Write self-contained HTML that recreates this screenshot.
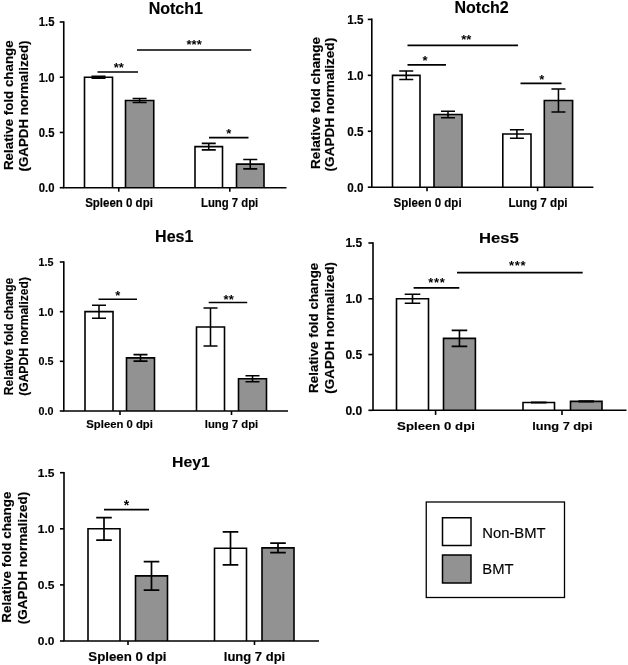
<!DOCTYPE html>
<html><head><meta charset="utf-8"><title>Figure</title>
<style>html,body{margin:0;padding:0;background:#fff;}body{width:628px;height:665px;overflow:hidden;font-family:"Liberation Sans", sans-serif;}</style>
</head><body>
<svg width="628" height="665" viewBox="0 0 628 665" style="display:block;will-change:transform;font-family:'Liberation Sans', sans-serif" fill="#000">
<rect width="628" height="665" fill="#fff"/>
<path d="M84.50 187.70V77.23H112.50V187.70" fill="#ffffff" stroke="#000" stroke-width="1.6" stroke-linejoin="miter"/>
<path d="M98.50 76.23V78.23M91.50 76.23H105.50M91.50 78.23H105.50" stroke="#000" stroke-width="1.55" fill="none"/>
<path d="M125.50 187.70V100.43H153.75V187.70" fill="#929292" stroke="#000" stroke-width="1.6" stroke-linejoin="miter"/>
<path d="M139.62 98.43V102.43M132.62 98.43H146.62M132.62 102.43H146.62" stroke="#000" stroke-width="1.55" fill="none"/>
<path d="M195.00 187.70V146.61H222.50V187.70" fill="#ffffff" stroke="#000" stroke-width="1.6" stroke-linejoin="miter"/>
<path d="M208.75 143.36V149.86M201.75 143.36H215.75M201.75 149.86H215.75" stroke="#000" stroke-width="1.55" fill="none"/>
<path d="M236.50 187.70V164.17H264.00V187.70" fill="#929292" stroke="#000" stroke-width="1.6" stroke-linejoin="miter"/>
<path d="M250.25 159.47V168.87M243.25 159.47H257.25M243.25 168.87H257.25" stroke="#000" stroke-width="1.55" fill="none"/>
<path d="M63.75 21.20V187.70H286.5" stroke="#000" stroke-width="1.6" fill="none" stroke-linejoin="miter"/>
<path d="M59.75 187.70H63.75" stroke="#000" stroke-width="1.6"/>
<text transform="translate(54.45,192.11) scale(1,1.09)" font-size="11.3" font-weight="bold" text-anchor="end" stroke="#000" stroke-width="0.15">0.0</text>
<path d="M59.75 132.47H63.75" stroke="#000" stroke-width="1.6"/>
<text transform="translate(54.45,136.88) scale(1,1.09)" font-size="11.3" font-weight="bold" text-anchor="end" stroke="#000" stroke-width="0.15">0.5</text>
<path d="M59.75 77.23H63.75" stroke="#000" stroke-width="1.6"/>
<text transform="translate(54.45,81.64) scale(1,1.09)" font-size="11.3" font-weight="bold" text-anchor="end" stroke="#000" stroke-width="0.15">1.0</text>
<path d="M59.75 22.00H63.75" stroke="#000" stroke-width="1.6"/>
<text transform="translate(54.45,26.41) scale(1,1.09)" font-size="11.3" font-weight="bold" text-anchor="end" stroke="#000" stroke-width="0.15">1.5</text>
<path d="M118.75 187.70V191.70" stroke="#000" stroke-width="1.6"/>
<text transform="translate(119.00,206.60) scale(1,1.14)" font-size="11.5" font-weight="bold" text-anchor="middle" stroke="#000" stroke-width="0.15">Spleen 0 dpi</text>
<path d="M229.8 187.70V191.70" stroke="#000" stroke-width="1.6"/>
<text transform="translate(229.60,206.60) scale(1,1.14)" font-size="11.35" font-weight="bold" text-anchor="middle" stroke="#000" stroke-width="0.15">Lung 7 dpi</text>
<text transform="translate(175.75,13.75) scale(1,1.0)" font-size="16" font-weight="bold" text-anchor="middle" stroke="#000" stroke-width="0.15">Notch1</text>
<text transform="translate(13.20,105.20) rotate(-90) scale(1.04,1)" font-size="12.837" font-weight="bold" text-anchor="middle" stroke="#000" stroke-width="0.15">Relative fold change</text>
<text transform="translate(28.00,106.00) rotate(-90) scale(1.04,1)" font-size="12.837" font-weight="bold" text-anchor="middle" stroke="#000" stroke-width="0.15">(GAPDH normalized)</text>
<path d="M97.5 72H138" stroke="#000" stroke-width="1.6"/>
<text x="118.80" y="71.70" font-size="13" font-weight="bold" text-anchor="middle" letter-spacing="0.1">**</text>
<path d="M137 50H251.25" stroke="#000" stroke-width="1.6"/>
<text x="194.18" y="48.60" font-size="13" font-weight="bold" text-anchor="middle" letter-spacing="0.1">***</text>
<path d="M209 137.6H248.5" stroke="#000" stroke-width="1.6"/>
<text x="228.80" y="138.10" font-size="13" font-weight="bold" text-anchor="middle" letter-spacing="0.1">*</text>
<path d="M392.50 187.20V75.33H420.00V187.20" fill="#ffffff" stroke="#000" stroke-width="1.6" stroke-linejoin="miter"/>
<path d="M406.25 71.08V79.58M399.25 71.08H413.25M399.25 79.58H413.25" stroke="#000" stroke-width="1.55" fill="none"/>
<path d="M434.00 187.20V114.49H462.00V187.20" fill="#929292" stroke="#000" stroke-width="1.6" stroke-linejoin="miter"/>
<path d="M448.00 111.24V117.74M441.00 111.24H455.00M441.00 117.74H455.00" stroke="#000" stroke-width="1.55" fill="none"/>
<path d="M502.80 187.20V133.95H531.00V187.20" fill="#ffffff" stroke="#000" stroke-width="1.6" stroke-linejoin="miter"/>
<path d="M516.90 129.70V138.20M509.90 129.70H523.90M509.90 138.20H523.90" stroke="#000" stroke-width="1.55" fill="none"/>
<path d="M544.30 187.20V100.50H572.60V187.20" fill="#929292" stroke="#000" stroke-width="1.6" stroke-linejoin="miter"/>
<path d="M558.45 89.00V112.00M551.45 89.00H565.45M551.45 112.00H565.45" stroke="#000" stroke-width="1.55" fill="none"/>
<path d="M371.8 18.60V187.20H593.4" stroke="#000" stroke-width="1.6" fill="none" stroke-linejoin="miter"/>
<path d="M367.8 187.20H371.8" stroke="#000" stroke-width="1.6"/>
<text transform="translate(363.50,192.02) scale(1,1.15)" font-size="11.7" font-weight="bold" text-anchor="end" stroke="#000" stroke-width="0.15">0.0</text>
<path d="M367.8 131.27H371.8" stroke="#000" stroke-width="1.6"/>
<text transform="translate(363.50,136.08) scale(1,1.15)" font-size="11.7" font-weight="bold" text-anchor="end" stroke="#000" stroke-width="0.15">0.5</text>
<path d="M367.8 75.33H371.8" stroke="#000" stroke-width="1.6"/>
<text transform="translate(363.50,80.15) scale(1,1.15)" font-size="11.7" font-weight="bold" text-anchor="end" stroke="#000" stroke-width="0.15">1.0</text>
<path d="M367.8 19.40H371.8" stroke="#000" stroke-width="1.6"/>
<text transform="translate(363.50,24.22) scale(1,1.15)" font-size="11.7" font-weight="bold" text-anchor="end" stroke="#000" stroke-width="0.15">1.5</text>
<path d="M427 187.20V191.20" stroke="#000" stroke-width="1.6"/>
<text transform="translate(427.60,207.00) scale(1,1.15)" font-size="11.55" font-weight="bold" text-anchor="middle" stroke="#000" stroke-width="0.15">Spleen 0 dpi</text>
<path d="M537.6 187.20V191.20" stroke="#000" stroke-width="1.6"/>
<text transform="translate(538.00,207.00) scale(1,1.15)" font-size="11.7" font-weight="bold" text-anchor="middle" stroke="#000" stroke-width="0.15">Lung 7 dpi</text>
<text transform="translate(481.60,13.00) scale(1,1.0)" font-size="16" font-weight="bold" text-anchor="middle" stroke="#000" stroke-width="0.15">Notch2</text>
<text transform="translate(320.30,102.90) rotate(-90) scale(1.05,1)" font-size="12.952" font-weight="bold" text-anchor="middle" stroke="#000" stroke-width="0.15">Relative fold change</text>
<text transform="translate(333.90,104.60) rotate(-90) scale(1.05,1)" font-size="12.952" font-weight="bold" text-anchor="middle" stroke="#000" stroke-width="0.15">(GAPDH normalized)</text>
<path d="M407.5 45.4H518" stroke="#000" stroke-width="1.6"/>
<text x="466.30" y="43.80" font-size="13" font-weight="bold" text-anchor="middle" letter-spacing="0.1">**</text>
<path d="M407.5 64.9H446" stroke="#000" stroke-width="1.6"/>
<text x="425.00" y="64.80" font-size="13" font-weight="bold" text-anchor="middle" letter-spacing="0.1">*</text>
<path d="M520.5 83.4H561.5" stroke="#000" stroke-width="1.6"/>
<text x="541.85" y="83.60" font-size="13" font-weight="bold" text-anchor="middle" letter-spacing="0.1">*</text>
<path d="M85.00 411.00V311.67H113.00V411.00" fill="#ffffff" stroke="#000" stroke-width="1.6" stroke-linejoin="miter"/>
<path d="M99.00 305.17V318.17M92.00 305.17H106.00M92.00 318.17H106.00" stroke="#000" stroke-width="1.55" fill="none"/>
<path d="M126.50 411.00V357.86H154.50V411.00" fill="#929292" stroke="#000" stroke-width="1.6" stroke-linejoin="miter"/>
<path d="M140.50 354.61V361.11M133.50 354.61H147.50M133.50 361.11H147.50" stroke="#000" stroke-width="1.55" fill="none"/>
<path d="M196.50 411.00V327.06H224.50V411.00" fill="#ffffff" stroke="#000" stroke-width="1.6" stroke-linejoin="miter"/>
<path d="M210.50 308.06V346.06M203.50 308.06H217.50M203.50 346.06H217.50" stroke="#000" stroke-width="1.55" fill="none"/>
<path d="M238.50 411.00V378.72H266.50V411.00" fill="#929292" stroke="#000" stroke-width="1.6" stroke-linejoin="miter"/>
<path d="M252.50 375.72V381.72M245.50 375.72H259.50M245.50 381.72H259.50" stroke="#000" stroke-width="1.55" fill="none"/>
<path d="M63.8 261.20V411.00H288" stroke="#000" stroke-width="1.6" fill="none" stroke-linejoin="miter"/>
<path d="M59.8 411.00H63.8" stroke="#000" stroke-width="1.6"/>
<text transform="translate(53.50,414.96) scale(1,1.03)" font-size="10.75" font-weight="bold" text-anchor="end" stroke="#000" stroke-width="0.15">0.0</text>
<path d="M59.8 361.33H63.8" stroke="#000" stroke-width="1.6"/>
<text transform="translate(53.50,365.30) scale(1,1.03)" font-size="10.75" font-weight="bold" text-anchor="end" stroke="#000" stroke-width="0.15">0.5</text>
<path d="M59.8 311.67H63.8" stroke="#000" stroke-width="1.6"/>
<text transform="translate(53.50,315.63) scale(1,1.03)" font-size="10.75" font-weight="bold" text-anchor="end" stroke="#000" stroke-width="0.15">1.0</text>
<path d="M59.8 262.00H63.8" stroke="#000" stroke-width="1.6"/>
<text transform="translate(53.50,265.96) scale(1,1.03)" font-size="10.75" font-weight="bold" text-anchor="end" stroke="#000" stroke-width="0.15">1.5</text>
<path d="M120 411.00V415.00" stroke="#000" stroke-width="1.6"/>
<text transform="translate(119.60,428.00) scale(1,1.03)" font-size="11.3" font-weight="bold" text-anchor="middle" stroke="#000" stroke-width="0.15">Spleen 0 dpi</text>
<path d="M231.5 411.00V415.00" stroke="#000" stroke-width="1.6"/>
<text transform="translate(231.50,428.00) scale(1,1.03)" font-size="11.3" font-weight="bold" text-anchor="middle" stroke="#000" stroke-width="0.15">lung 7 dpi</text>
<text transform="translate(174.20,241.80) scale(1,1.0)" font-size="16" font-weight="bold" text-anchor="middle" stroke="#000" stroke-width="0.15">Hes1</text>
<text transform="translate(13.40,336.40) rotate(-90) scale(0.9,1)" font-size="13.444" font-weight="bold" text-anchor="middle" stroke="#000" stroke-width="0.15">Relative fold change</text>
<text transform="translate(27.70,336.40) rotate(-90) scale(0.9,1)" font-size="13.444" font-weight="bold" text-anchor="middle" stroke="#000" stroke-width="0.15">(GAPDH normalized)</text>
<path d="M98.5 299.2H137" stroke="#000" stroke-width="1.6"/>
<text x="117.80" y="299.70" font-size="13" font-weight="bold" text-anchor="middle" letter-spacing="0.1">*</text>
<path d="M208.7 302.5H247.2" stroke="#000" stroke-width="1.6"/>
<text x="228.70" y="303.50" font-size="13" font-weight="bold" text-anchor="middle" letter-spacing="0.1">**</text>
<path d="M396.50 410.30V298.77H428.50V410.30" fill="#ffffff" stroke="#000" stroke-width="1.6" stroke-linejoin="miter"/>
<path d="M412.50 294.27V303.27M404.70 294.27H420.30M404.70 303.27H420.30" stroke="#000" stroke-width="1.6" fill="none"/>
<path d="M443.50 410.30V338.36H475.40V410.30" fill="#929292" stroke="#000" stroke-width="1.6" stroke-linejoin="miter"/>
<path d="M459.45 330.36V346.36M451.65 330.36H467.25M451.65 346.36H467.25" stroke="#000" stroke-width="1.6" fill="none"/>
<path d="M523.00 410.30V402.49H554.50V410.30" fill="#ffffff" stroke="#000" stroke-width="1.6" stroke-linejoin="miter"/>
<path d="M538.75 402.19V402.79M530.95 402.19H546.55M530.95 402.79H546.55" stroke="#000" stroke-width="1.6" fill="none"/>
<path d="M570.50 410.30V401.38H602.00V410.30" fill="#929292" stroke="#000" stroke-width="1.6" stroke-linejoin="miter"/>
<path d="M586.25 401.08V401.68M578.45 401.08H594.05M578.45 401.68H594.05" stroke="#000" stroke-width="1.6" fill="none"/>
<path d="M373 242.20V410.30H626.5" stroke="#000" stroke-width="1.6" fill="none" stroke-linejoin="miter"/>
<path d="M368.4 410.30H373" stroke="#000" stroke-width="1.6"/>
<text transform="translate(362.10,414.60) scale(1,1.0)" font-size="12" font-weight="bold" text-anchor="end" stroke="#000" stroke-width="0.15">0.0</text>
<path d="M368.4 354.53H373" stroke="#000" stroke-width="1.6"/>
<text transform="translate(362.10,358.83) scale(1,1.0)" font-size="12" font-weight="bold" text-anchor="end" stroke="#000" stroke-width="0.15">0.5</text>
<path d="M368.4 298.77H373" stroke="#000" stroke-width="1.6"/>
<text transform="translate(362.10,303.06) scale(1,1.0)" font-size="12" font-weight="bold" text-anchor="end" stroke="#000" stroke-width="0.15">1.0</text>
<path d="M368.4 243.00H373" stroke="#000" stroke-width="1.6"/>
<text transform="translate(362.10,247.30) scale(1,1.0)" font-size="12" font-weight="bold" text-anchor="end" stroke="#000" stroke-width="0.15">1.5</text>
<path d="M435.6 410.30V414.90" stroke="#000" stroke-width="1.6"/>
<text transform="translate(436.00,430.10) scale(1,0.85)" font-size="13.2" font-weight="bold" text-anchor="middle" stroke="#000" stroke-width="0.15">Spleen 0 dpi</text>
<path d="M562 410.30V414.90" stroke="#000" stroke-width="1.6"/>
<text transform="translate(562.30,430.10) scale(1,0.91)" font-size="12.8" font-weight="bold" text-anchor="middle" stroke="#000" stroke-width="0.15">lung 7 dpi</text>
<text transform="translate(498.80,243.30) scale(1,0.92)" font-size="16.6" font-weight="bold" text-anchor="middle" stroke="#000" stroke-width="0.15">Hes5</text>
<text transform="translate(317.60,327.80) rotate(-90) scale(1.06,1)" font-size="12.642" font-weight="bold" text-anchor="middle" stroke="#000" stroke-width="0.15">Relative fold change</text>
<text transform="translate(333.50,327.80) rotate(-90) scale(1.06,1)" font-size="12.642" font-weight="bold" text-anchor="middle" stroke="#000" stroke-width="0.15">(GAPDH normalized)</text>
<path d="M413.6 287.8H459.3" stroke="#000" stroke-width="1.7"/>
<text x="436.80" y="286.90" font-size="13" font-weight="bold" text-anchor="middle" letter-spacing="0.7">***</text>
<path d="M457 272.7H582.7" stroke="#000" stroke-width="1.7"/>
<text x="517.70" y="270.40" font-size="13" font-weight="bold" text-anchor="middle" letter-spacing="0.7">***</text>
<path d="M88.00 641.00V528.80H120.00V641.00" fill="#ffffff" stroke="#000" stroke-width="1.6" stroke-linejoin="miter"/>
<path d="M104.00 517.55V540.05M96.20 517.55H111.80M96.20 540.05H111.80" stroke="#000" stroke-width="1.7" fill="none"/>
<path d="M135.50 641.00V575.92H167.50V641.00" fill="#929292" stroke="#000" stroke-width="1.6" stroke-linejoin="miter"/>
<path d="M151.50 561.67V590.17M143.70 561.67H159.30M143.70 590.17H159.30" stroke="#000" stroke-width="1.7" fill="none"/>
<path d="M214.50 641.00V548.32H246.50V641.00" fill="#ffffff" stroke="#000" stroke-width="1.6" stroke-linejoin="miter"/>
<path d="M230.50 531.82V564.82M222.70 531.82H238.30M222.70 564.82H238.30" stroke="#000" stroke-width="1.7" fill="none"/>
<path d="M262.00 641.00V547.87H294.00V641.00" fill="#929292" stroke="#000" stroke-width="1.6" stroke-linejoin="miter"/>
<path d="M278.00 543.12V552.62M270.20 543.12H285.80M270.20 552.62H285.80" stroke="#000" stroke-width="1.7" fill="none"/>
<path d="M64 471.90V641.00H319" stroke="#000" stroke-width="1.6" fill="none" stroke-linejoin="miter"/>
<path d="M60 641.00H64" stroke="#000" stroke-width="1.6"/>
<text transform="translate(54.40,645.04) scale(1,0.94)" font-size="12" font-weight="bold" text-anchor="end" stroke="#000" stroke-width="0.15">0.0</text>
<path d="M60 584.90H64" stroke="#000" stroke-width="1.6"/>
<text transform="translate(54.40,588.94) scale(1,0.94)" font-size="12" font-weight="bold" text-anchor="end" stroke="#000" stroke-width="0.15">0.5</text>
<path d="M60 528.80H64" stroke="#000" stroke-width="1.6"/>
<text transform="translate(54.40,532.84) scale(1,0.94)" font-size="12" font-weight="bold" text-anchor="end" stroke="#000" stroke-width="0.15">1.0</text>
<path d="M60 472.70H64" stroke="#000" stroke-width="1.6"/>
<text transform="translate(54.40,476.74) scale(1,0.94)" font-size="12" font-weight="bold" text-anchor="end" stroke="#000" stroke-width="0.15">1.5</text>
<path d="M128 641.00V645.00" stroke="#000" stroke-width="1.6"/>
<text transform="translate(127.40,661.00) scale(1,0.93)" font-size="13.3" font-weight="bold" text-anchor="middle" stroke="#000" stroke-width="0.15">Spleen 0 dpi</text>
<path d="M254.5 641.00V645.00" stroke="#000" stroke-width="1.6"/>
<text transform="translate(254.50,661.00) scale(1,1.0)" font-size="13" font-weight="bold" text-anchor="middle" stroke="#000" stroke-width="0.15">lung 7 dpi</text>
<text transform="translate(190.90,467.30) scale(1,0.9)" font-size="15.8" font-weight="bold" text-anchor="middle" stroke="#000" stroke-width="0.15">Hey1</text>
<text transform="translate(11.10,557.20) rotate(-90) scale(1.02,1)" font-size="13.235" font-weight="bold" text-anchor="middle" stroke="#000" stroke-width="0.15">Relative fold change</text>
<text transform="translate(27.30,558.00) rotate(-90) scale(1.02,1)" font-size="13.235" font-weight="bold" text-anchor="middle" stroke="#000" stroke-width="0.15">(GAPDH normalized)</text>
<path d="M104 509.6H149" stroke="#000" stroke-width="1.7"/>
<text x="126.55" y="510.00" font-size="14" font-weight="bold" text-anchor="middle" letter-spacing="0.1">*</text>
<rect x="426.25" y="502" width="138.25" height="95.5" fill="#fff" stroke="#000" stroke-width="1.3"/>
<rect x="442.5" y="517.75" width="28.5" height="27.75" fill="#fff" stroke="#000" stroke-width="1.5"/>
<rect x="442.5" y="555" width="28.5" height="28" fill="#929292" stroke="#000" stroke-width="1.5"/>
<text x="482.3" y="538" font-size="14.8" stroke="#000" stroke-width="0.15">Non-BMT</text>
<text x="482.3" y="573.75" font-size="14.8" stroke="#000" stroke-width="0.15">BMT</text>
</svg>
</body></html>
